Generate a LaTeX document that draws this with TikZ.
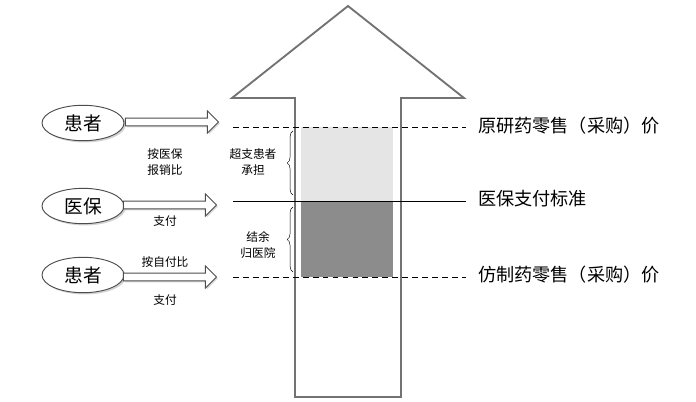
\documentclass[tikz,border=0pt]{standalone}
\usepackage{fontspec}
\setmainfont{Noto Sans CJK SC}
\usetikzlibrary{shapes.geometric,shapes.arrows,decorations.pathreplacing,shadows}

\newlength{\unitpx}
\setlength{\unitpx}{0.03cm}
\tikzset{
  actor/.style={ellipse, draw=black!70, thick, minimum width=82\unitpx, minimum height=34\unitpx,
    fill=white, drop shadow={opacity=.35, shadow xshift=1.5pt, shadow yshift=-1.5pt}, font=\fontsize{16}{18}\selectfont},
  flow/.style={single arrow, draw=black!70, thick, fill=white, minimum height=93\unitpx,
    minimum width=22\unitpx, single arrow head extend=4\unitpx, inner sep=1.5pt,
    drop shadow={opacity=.3, shadow xshift=1.2pt, shadow yshift=-1.2pt}},
  small/.style={font=\fontsize{10}{14}\selectfont, align=center},
  price/.style={anchor=west, font=\fontsize{15.5}{18}\selectfont},
  level/.style={thick, dash pattern=on 5pt off 3.5pt}
}

\begin{document}
\begin{tikzpicture}[x=0.03cm, y=-0.03cm]
  \useasboundingbox (0,0) rectangle (696,402);

  % colonne
  \fill[black!10] (301,127) rectangle (393,201);
  \fill[black!45] (301,201) rectangle (393,277);
  \draw[black!55, line width=1.6pt, line join=miter]
    (295,397) -- (295,98) -- (232,98) -- (348,6) -- (464,98) -- (401,98) -- (401,397) -- cycle;

  % niveaux
  \draw[level] (233,127) -- (466,127);
  \draw[thick] (233,201) -- (466,201);
  \draw[level] (233,277) -- (466,277);

  % prix
  \node[price] (orig) at (474,126) {原研药零售（采购）价};
  \node[price] (std) at (474,199) {医保支付标准};
  \node[price] (gen) at (474,275) {仿制药零售（采购）价};

  % acteurs
  \node[actor] (pat1) at (83,123) {患者};
  \node[actor] (ins) at (83,206) {医保};
  \node[actor] (pat2) at (83,275) {患者};

  % fleches creuses
  \node[flow] (f1) at (170,122) {};
  \node[flow] (f2) at (168,205) {};
  \node[flow] (f3) at (168,277) {};

  % textes
  \node[small] (t1) at (165,162) {按医保\\报销比};
  \node[small] (t2) at (165,221) {支付};
  \node[small] (t3) at (165,262) {按自付比};
  \node[small] (t4) at (165,300) {支付};
  \node[small] (t5) at (253,162) {超支患者\\承担};
  \node[small] (t6) at (258,245) {结余\\归医院};

  % accolades
  \draw[decorate, decoration={brace, amplitude=5pt}] (293,195) -- (293,131);
  \draw[decorate, decoration={brace, amplitude=5pt}] (293,272) -- (293,207);
\end{tikzpicture}
\end{document}
